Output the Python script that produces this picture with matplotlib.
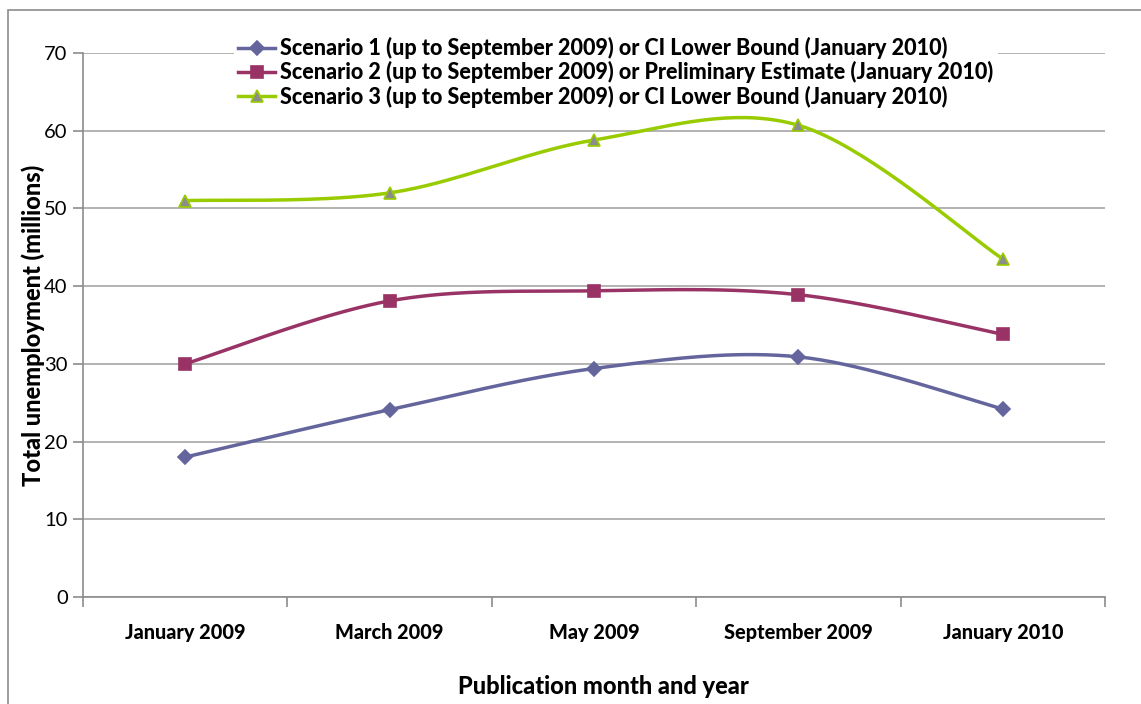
import numpy as np
import matplotlib
matplotlib.use("Agg")
import matplotlib.pyplot as plt
from matplotlib.patches import Rectangle
from matplotlib.lines import Line2D

categories = ["January 2009", "March 2009", "May 2009", "September 2009", "January 2010"]
labels = [
    "Scenario 1 (up to September 2009) or CI Lower Bound (January 2010)",
    "Scenario 2 (up to September 2009) or Preliminary Estimate (January 2010)",
    "Scenario 3 (up to September 2009) or CI Lower Bound (January 2010)",
]
scenario1 = [18.0, 24.1, 29.4, 30.9, 24.2]
scenario2 = [30.0, 38.1, 39.4, 38.9, 33.8]
scenario3 = [51.0, 52.0, 58.8, 60.7, 43.5]
y_ticks = [0, 10, 20, 30, 40, 50, 60, 70]

colors = ["#65659E", "#993366", "#99CC00"]
mfaces = ["#65659E", "#993366", "#8C8C8C"]
markers = ["D", "s", "^"]
msizes = [7, 9, 9]

plt.rcParams["font.family"] = ["Lato", "DejaVu Sans"]
BOLD = "black"

W, H = 1141, 704
fig = plt.figure(figsize=(W / 100, H / 100), dpi=100)
fig.patches.append(Rectangle((8 / W, -0.1), 1.2, 1 - 10 / H + 0.1, transform=fig.transFigure,
                             fill=False, edgecolor="#8C8C8C", linewidth=1.2))
ax = fig.add_axes([83 / W, 1 - 597 / H, (1105 - 83) / W, (597 - 53) / H])


def smooth(xs, ys, n=40):
    x = np.asarray(xs, float)
    y = np.asarray(ys, float)
    P = np.column_stack([x, y])
    Pext = np.vstack([P[0], P, P[-1]])
    out = []
    for i in range(len(P) - 1):
        p0, p3 = P[i], P[i + 1]
        c1 = p0 + (Pext[i + 2] - Pext[i]) / 6.0
        c2 = p3 - (Pext[i + 3] - Pext[i + 1]) / 6.0
        t = np.linspace(0, 1, n)[:, None]
        seg = ((1 - t) ** 3) * p0 + 3 * ((1 - t) ** 2) * t * c1 + 3 * (1 - t) * t ** 2 * c2 + t ** 3 * p3
        out.append(seg if i == 0 else seg[1:])
    s = np.vstack(out)
    return s[:, 0], s[:, 1]


xs = np.arange(len(categories))
handles = []
for vals, c, mf, m, ms, lab in zip([scenario1, scenario2, scenario3], colors, mfaces, markers, msizes, labels):
    sx, sy = smooth(xs, vals)
    ax.plot(sx, sy, color=c, linewidth=2.5, zorder=3, solid_capstyle="round")
    ax.plot(xs, vals, linestyle="none", marker=m, markersize=ms, markerfacecolor=mf,
            markeredgecolor=c, markeredgewidth=1.2, zorder=4)
    handles.append(Line2D([0], [0], color=c, linewidth=2.5, marker=m, markersize=ms,
                          markerfacecolor=mf, markeredgecolor=c, markeredgewidth=1.2, label=lab))

ax.set_xlim(-0.5, len(categories) - 0.5)
ax.set_ylim(0, 70)
ax.set_yticks(y_ticks)
ax.set_yticklabels([str(v) for v in y_ticks], fontsize=14.5)
ax.set_xticks(xs)
ax.set_xticklabels(categories, fontsize=14.3, fontweight=BOLD)
ax.set_xticks(np.arange(-0.5, len(categories), 1.0), minor=True)
ax.tick_params(axis="x", which="major", length=0, pad=19)
ax.tick_params(axis="x", which="minor", length=7, direction="out", color="#8C8C8C", width=1.2)
ax.tick_params(axis="y", length=7, direction="out", color="#8C8C8C", width=1.2, pad=4)

ax.grid(axis="y", color="#A6A6A6", linewidth=1.2, zorder=0)
ax.set_axisbelow(True)
for s in ["top", "right"]:
    ax.spines[s].set_visible(False)
for s in ["left", "bottom"]:
    ax.spines[s].set_color("#8C8C8C")
    ax.spines[s].set_linewidth(1.2)

ax.set_ylabel("Total unemployment (millions)", fontsize=17, fontweight=BOLD)
ax.set_xlabel("Publication month and year", fontsize=17, fontweight=BOLD)
ax.yaxis.set_label_coords((33 - 83) / 1022, 0.5)
ax.yaxis.label.set_va("center")
ax.xaxis.set_label_coords((603 - 83) / 1022, (597 - 686) / 544)
ax.xaxis.label.set_va("center")

leg = ax.legend(handles=handles, loc="upper center", bbox_to_anchor=(0.5215, 1.057), frameon=True,
                framealpha=1, edgecolor="none", prop={"weight": BOLD, "size": 15.5},
                handlelength=1.7, handletextpad=0.25, labelspacing=0.1, borderpad=0.2)
leg.set_zorder(2)

fig.savefig("out.png", dpi=100)
